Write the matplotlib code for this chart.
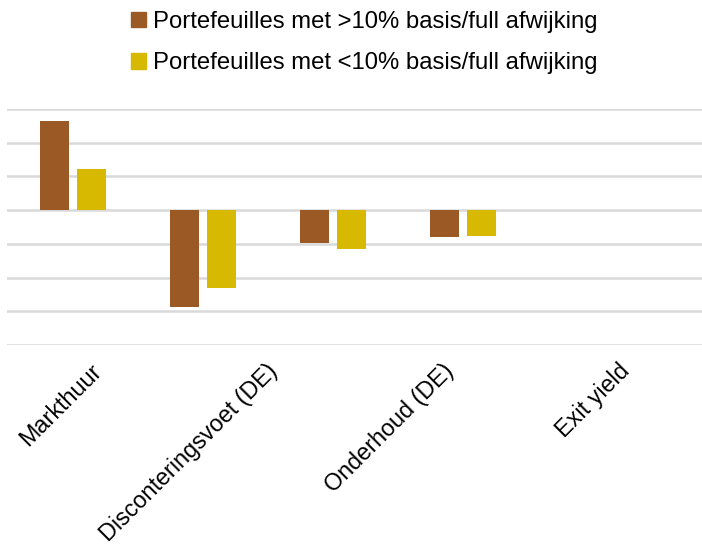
import numpy as np
import matplotlib.pyplot as plt
from matplotlib.patches import Patch

plt.rcParams['font.family'] = ['Liberation Sans', 'DejaVu Sans']

categories = ['Markthuur', 'Disconteringsvoet (DE)', 'Onderhoud (DE)', 'Exit yield']
above_10 = [2.63, -2.86, -0.97, -0.80]
below_10 = [1.22, -2.31, -1.15, -0.78]
series_names = ['Portefeuilles met >10% basis/full afwijking',
                'Portefeuilles met <10% basis/full afwijking']

brown = '#9B5926'
yellow = '#D6B900'

fig = plt.figure(figsize=(7.02, 5.5), dpi=100)
ax = fig.add_axes([0.01, 0.3727, 0.99, 0.4291])

x = np.arange(len(categories))
w = 0.223
ax.bar(x - 0.141, above_10, width=w, color=brown, zorder=3)
ax.bar(x + 0.141, below_10, width=w, color=yellow, zorder=3)

ax.set_ylim(-4, 3)
ax.set_xlim(-0.507, 4.84)
ax.set_yticks(np.arange(-4, 4))
ax.yaxis.grid(True, color='#D9D9D9', linewidth=1.8, zorder=0)
ax.tick_params(axis='y', left=False, labelleft=False)
for s in ax.spines.values():
    s.set_visible(False)

# category labels sit on their own spacing below the plot
label_pos = 0.19 + 1.355 * x
ax.set_xticks(label_pos)
ax.set_xticklabels(categories, rotation=45, ha='right', va='center',
                   rotation_mode='anchor', fontsize=16.8)
ax.tick_params(axis='x', bottom=False, pad=13)

handles = [Patch(color=brown), Patch(color=yellow)]
fig.legend(handles, series_names, loc='upper left', bbox_to_anchor=(0.172, 1.0),
           frameon=False, fontsize=17.2, handlelength=0.6, handleheight=0.6,
           handletextpad=0.3, labelspacing=0.82, borderaxespad=0.05)

fig.savefig('out.png', dpi=100)
